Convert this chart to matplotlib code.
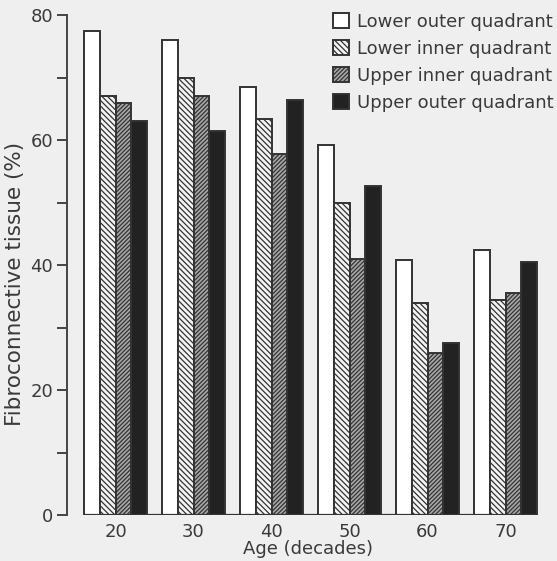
import numpy as np
import matplotlib.pyplot as plt

# values (% fibroconnective tissue)
decades = ["20", "30", "40", "50", "60", "70"]
lower_outer = [77.5, 76, 68.5, 59.2, 40.8, 42.4]
lower_inner = [67, 70, 63.3, 50, 34, 34.4]
upper_inner = [66, 67, 57.7, 41, 26, 35.5]
upper_outer = [63, 61.5, 66.4, 52.6, 27.5, 40.5]

series = [
    ("Lower outer quadrant", lower_outer, "white", ""),
    ("Lower inner quadrant", lower_inner, "#f4f4f4", "\\\\\\\\\\\\"),
    ("Upper inner quadrant", upper_inner, "#a8a8a8", "////////"),
    ("Upper outer quadrant", upper_outer, "#222222", ""),
]

bg = "#efefef"
ink = "#3a3a3a"
plt.rcParams["font.family"] = ["DejaVu Sans"]
plt.rcParams["hatch.linewidth"] = 0.9
plt.rcParams["hatch.color"] = "#333333"

fig = plt.figure(figsize=(5.57, 5.61), dpi=100, facecolor=bg)
ax = fig.add_axes([67 / 557, 46 / 561, 478 / 557, 500 / 561], facecolor=bg)

x = np.arange(len(decades))
width = 0.2
for i, (name, vals, color, hatch) in enumerate(series):
    ax.bar(x - 0.3 + i * width, vals, width, color=color, hatch=hatch,
           edgecolor="#333333", linewidth=1.4, label=name)

ax.hlines(0, -0.4, len(decades) - 0.6, color="#333333", lw=1.6)

ax.set_xlim(-0.622, 5.506)
ax.set_ylim(0, 80)
for s in ["top", "right", "bottom"]:
    ax.spines[s].set_visible(False)
ax.spines["left"].set_color("#444444")
ax.spines["left"].set_linewidth(1.4)

ax.set_yticks([0, 20, 40, 60, 80])
ax.set_yticks([10, 30, 50, 70], minor=True)
ax.tick_params(axis="y", which="both", direction="out", length=7, width=1.4,
               color="#444444", labelsize=13, labelcolor=ink, pad=3)
ax.set_xticks(x)
ax.set_xticklabels(decades)
ax.tick_params(axis="x", length=0, labelsize=13, labelcolor=ink, pad=5.5)

ax.set_xlabel("Age (decades)", fontsize=13, color=ink)
ax.xaxis.set_label_coords(0.504, -0.051)
ax.set_ylabel("Fibroconnective tissue (%)", fontsize=15.5, color=ink)
ax.yaxis.set_label_coords(-0.088, 0.462)

leg = ax.legend(loc="upper left", bbox_to_anchor=(0.556, 1.004), frameon=False,
                fontsize=13, handlelength=0.9, handleheight=0.9,
                handletextpad=0.45, labelspacing=0.5, borderpad=0,
                borderaxespad=0, labelcolor=ink)

fig.savefig("out.png", dpi=100, facecolor=bg)
